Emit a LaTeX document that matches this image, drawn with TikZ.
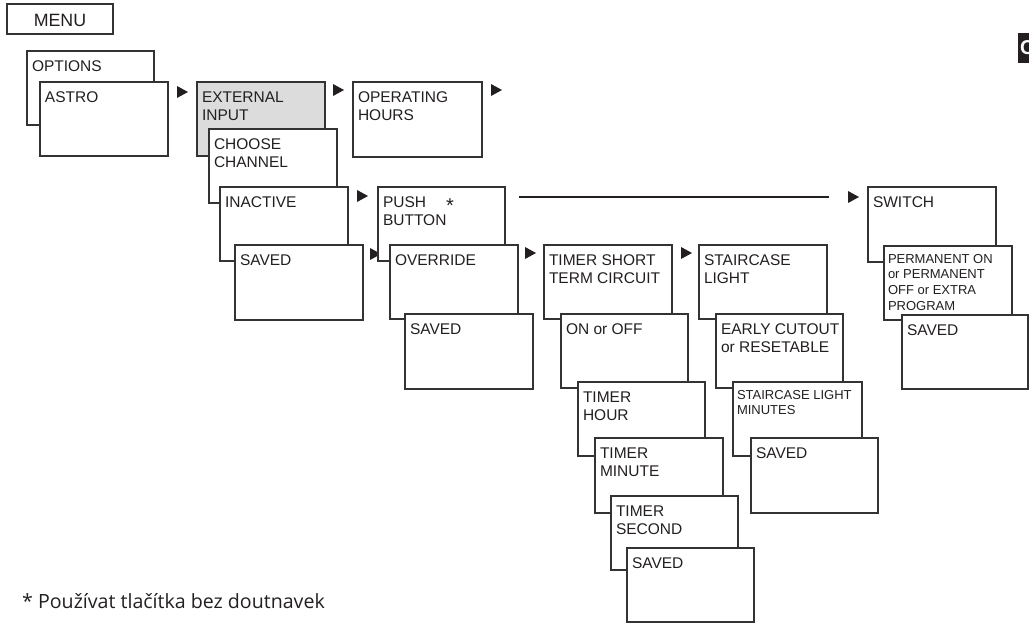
\documentclass[tikz,border=0pt]{standalone}
\usepackage{fontspec}
\setmainfont{Liberation Sans}
\newfontfamily\fnfont{Open Sans}
\definecolor{linec}{HTML}{333333}
\definecolor{txtc}{HTML}{231F20}
\definecolor{grayfill}{HTML}{DCDCDC}
\tikzset{
  mbox/.style={draw=linec, line width=1.2pt, fill=white, inner sep=0pt, outer sep=0pt, anchor=north west},
  lbl/.style={inner sep=0pt, outer sep=0pt, align=left, text=txtc, font=\fontsize{15.5}{18.3}\selectfont},
  smalllbl/.style={lbl, font=\fontsize{13}{15.8}\selectfont},
  tri/.style={fill=txtc, draw=none}
}
\newcommand\mb[7][]{%
  \node[mbox,#1,minimum width={(#5-#3)*1pt},minimum height={(#6-#4)*1pt}] (#2) at (#3,#4) {};
  \node[lbl,anchor=north west] (#2-t) at ([shift={(5pt,-9.5pt)}]#2.north west) {#7};
}
\newcommand\mbs[7][]{%
  \node[mbox,#1,minimum width={(#5-#3)*1pt},minimum height={(#6-#4)*1pt}] (#2) at (#3,#4) {};
  \node[smalllbl,anchor=north west] (#2-t) at ([shift={(4pt,-8pt)}]#2.north west) {#7};
}
\newcommand\tri[2]{\fill[tri] (#1-5,#2-6) -- (#1+6,#2) -- (#1-5,#2+6) -- cycle;}
\begin{document}
\begin{tikzpicture}[x=1pt,y=-1pt]
\useasboundingbox (0,0) rectangle (1029,623);
% MENU
\node[mbox,minimum width=106pt,minimum height=30pt] (menu) at (7,4) {};
\node[lbl,anchor=base,font=\fontsize{17.8}{20}\selectfont] (menu-t) at ([yshift=-8pt]menu.center) {MENU};
% Options chain
\mb{opt}{27}{51}{154}{125}{OPTIONS}
\mb{astro}{40}{82}{168}{156}{ASTRO}
\tri{182}{92}
% External input chain
\mb[fill=grayfill]{ext}{197}{82}{325}{156}{EXTERNAL\\INPUT}
\mb{choose}{209}{129}{337}{203}{CHOOSE\\CHANNEL}
\mb{inact}{220}{187}{348}{261}{INACTIVE}
\mb{savedA}{235}{245}{363}{320}{SAVED}
\tri{338}{90}
% Operating hours
\mb{oper}{353}{82}{482}{157}{OPERATING\\HOURS}
\tri{496}{90}
\tri{362}{196}
\tri{375}{254}
% Push button chain
\mb{push}{378}{187}{505}{261}{PUSH\hspace{20pt}\raisebox{-5pt}{\fontsize{20}{18}\selectfont *}\\BUTTON}
\mb{override}{390}{245}{518}{319}{OVERRIDE}
\mb{savedB}{405}{314}{533}{389}{SAVED}
\tri{530}{253}
% Timer chain
\mb{timer}{544}{245}{672}{319}{TIMER SHORT\\TERM CIRCUIT}
\mb{onoff}{561}{314}{688}{388}{ON or OFF}
\mb{thour}{578}{382}{705}{456}{TIMER\\HOUR}
\mb{tmin}{595}{438}{723}{513}{TIMER\\MINUTE}
\mb{tsec}{611}{496}{738}{570}{TIMER\\SECOND}
\mb{savedC}{627}{548}{754}{622}{SAVED}
\tri{686}{253}
% Staircase chain
\mb{stair}{699}{245}{827}{319}{STAIRCASE\\LIGHT}
\mb{early}{716}{314}{843}{388}{EARLY CUTOUT\\or RESETABLE}
\mbs{smin}{733}{382}{862}{456}{STAIRCASE LIGHT\\MINUTES}
\mb{savedD}{751}{438}{878}{513}{SAVED}
% Switch chain
\coordinate (lineS) at (519,197);
\coordinate (lineE) at (829,197);
\draw[line width=2.6pt, draw=txtc] (lineS) -- (lineE);
\tri{853}{197}
\mb{switch}{868}{187}{996}{262}{SWITCH}
\mbs{perm}{884}{246}{1012}{320}{PERMANENT ON\\or PERMANENT\\OFF or EXTRA\\PROGRAM}
\mb{savedE}{902}{315}{1028}{389}{SAVED}
% Top-right tab
\begin{scope}
\clip (1018,33) rectangle (1029,63);
\fill[txtc] (1018,33) rectangle (1029,63);
\node[anchor=west, text=white, inner sep=0pt, font=\bfseries\fontsize{20}{20}\selectfont] (tab) at (1020,48) {C};
\end{scope}
% Footnote
\node[anchor=base west, inner sep=0pt, text=txtc, font=\fnfont\fontsize{19.6}{22}\selectfont] (foot) at (22,608) {* Používat tlačítka bez doutnavek};
\end{tikzpicture}
\end{document}
